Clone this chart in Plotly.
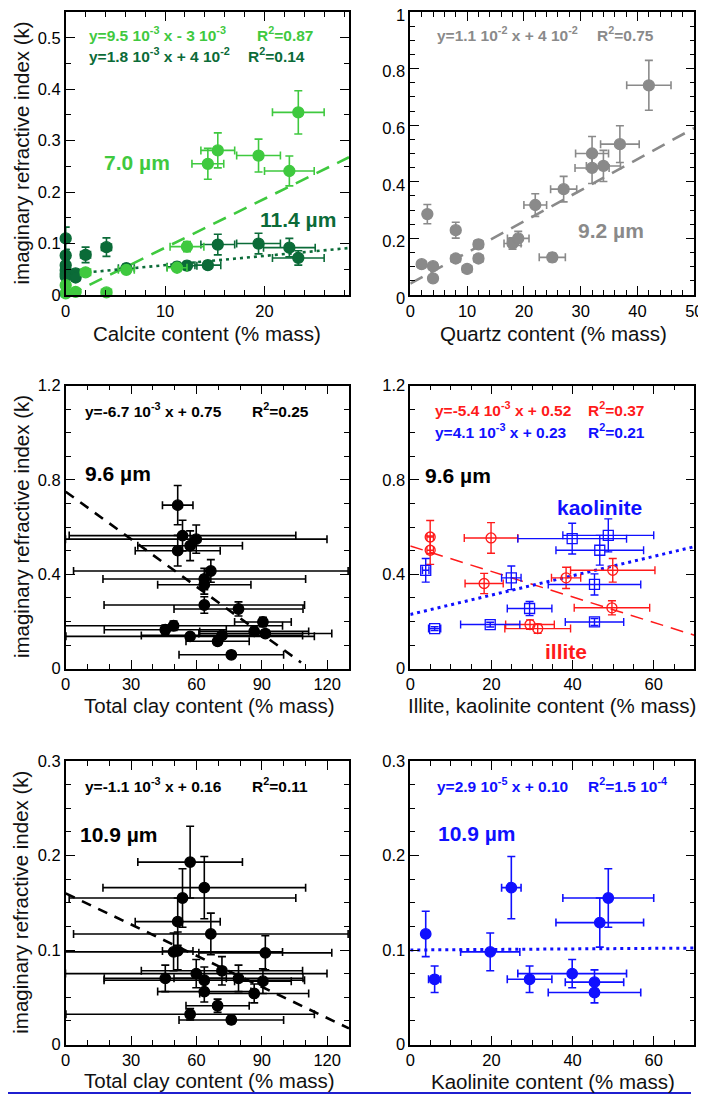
import plotly.graph_objects as go

# The page body adds an 8 px margin, so the figure is sized to the window minus that
OFF = 8
W, H = 706 - OFF, 1096 - OFF
FONT = "Liberation Sans, Arial, sans-serif"

# ---------------- colours ----------------
C_LIGHT = "#3fc93f"
C_DARK = "#0b6b38"
C_GRAY = "#8a8a8a"
C_BLACK = "#000000"
C_RED = "#ff1a1a"
C_BLUE = "#1010ff"

# ---------------- data: calcite (7.0 um and 11.4 um) ----------------
calc_x7 = [0, 0, 1.0, 2.0, 4.1, 6.1, 11.2, 12.2, 14.3, 15.3, 19.4, 22.5, 23.4]
calc_xe7 = [0.2, 0.2, 0.3, 0.5, 0.5, 0.8, 1.0, 1.7, 1.6, 1.7, 2.2, 2.5, 2.6]
calc_k7 = [0.003, 0.019, 0.006, 0.044, 0.005, 0.049, 0.053, 0.094, 0.255, 0.281, 0.271, 0.241, 0.355]
calc_ke7 = [0.004, 0.005, 0.004, 0.005, 0.004, 0.006, 0.006, 0.010, 0.030, 0.034, 0.032, 0.029, 0.042]

calc_x11 = [0, 0, 0, 0, 0, 0, 1.0, 1.0, 2.0, 4.1, 6.1, 11.2, 12.2, 14.3, 15.3, 19.4, 22.5, 23.4]
calc_xe11 = [0.2, 0.2, 0.2, 0.2, 0.2, 0.2, 0.4, 0.4, 0.5, 0.5, 0.8, 1.0, 1.0, 1.3, 1.7, 2.2, 2.6, 2.6]
calc_k11 = [0.110, 0.077, 0.058, 0.048, 0.041, 0.036, 0.042, 0.034, 0.078, 0.093, 0.052, 0.055, 0.057,
            0.058, 0.098, 0.100, 0.092, 0.072]
calc_ke11 = [0.022, 0.012, 0.010, 0.008, 0.007, 0.006, 0.008, 0.006, 0.015, 0.018, 0.008, 0.008, 0.008,
             0.008, 0.020, 0.020, 0.018, 0.014]

# ---------------- data: quartz (9.2 um) ----------------
qtz_x = [42.0, 36.9, 32.0, 32.0, 34.0, 27.0, 22.0, 18.0, 19.0, 25.0, 12.0, 12.0, 8.0, 8.0, 10.0, 3.0, 2.0, 4.0, 4.0]
qtz_xe = [3.9, 3.4, 2.9, 3.0, 3.0, 2.3, 2.0, 1.5, 1.9, 2.3, 0.8, 0.8, 0.6, 0.8, 0.8, 0.4, 0.7, 0.7, 0.5]
qtz_k = [0.741, 0.533, 0.500, 0.449, 0.456, 0.374, 0.318, 0.182, 0.200, 0.133, 0.179, 0.129, 0.229, 0.129,
         0.092, 0.286, 0.109, 0.102, 0.059]
qtz_ke = [0.088, 0.065, 0.060, 0.055, 0.055, 0.045, 0.040, 0.020, 0.025, 0.015, 0.015, 0.010, 0.028, 0.010,
          0.010, 0.034, 0.010, 0.012, 0.010]

# ---------------- data: total clay (9.6 um and 10.9 um) ----------------
clay_x = [51.4, 53.6, 59.9, 57.1, 51.4, 66.6, 63.6, 63.6, 63.6, 79.3, 90.5, 49.5, 45.7, 57.1, 69.7, 71.7, 86.5, 91.6, 76.0]
clay_xe = [7, 52, 60, 24, 19.5, 63, 46.5, 21.4, 46, 29.6, 13, 50, 28, 57, 14.5, 37, 25, 30.5, 24]
clay_k96 = [0.693, 0.564, 0.549, 0.521, 0.500, 0.414, 0.380, 0.356, 0.270, 0.253, 0.198, 0.182, 0.165,
            0.137, 0.116, 0.141, 0.158, 0.149, 0.059]
clay_ke96 = [0.083, 0.065, 0.060, 0.063, 0.065, 0.048, 0.045, 0.040, 0.035, 0.030, 0.020, 0.020, 0.020,
             0.015, 0.015, 0.015, 0.018, 0.015, 0.010]
clay_k109 = [0.099, 0.155, 0.075, 0.193, 0.130, 0.117, 0.166, 0.056, 0.068, 0.070, 0.067, 0.098, 0.070,
             0.032, 0.041, 0.078, 0.054, 0.097, 0.026]
clay_ke109 = [0.020, 0.031, 0.015, 0.038, 0.025, 0.022, 0.033, 0.011, 0.014, 0.014, 0.013, 0.020, 0.014,
              0.006, 0.007, 0.015, 0.010, 0.018, 0.004]

# ---------------- data: illite / kaolinite ----------------
illite_x = [4.9, 4.9, 19.9, 18.2, 38.4, 49.9, 49.7, 29.5, 31.4]
illite_xe = [0.8, 0.8, 6.6, 4.7, 3.6, 10.4, 9.3, 6.0, 8.1]
illite_k96 = [0.558, 0.502, 0.554, 0.361, 0.385, 0.417, 0.258, 0.187, 0.170]
illite_ke96 = [0.070, 0.060, 0.065, 0.043, 0.045, 0.050, 0.030, 0.020, 0.020]

kaol_x = [3.8, 6.0, 24.9, 29.4, 19.7, 39.9, 48.8, 46.7, 45.4, 45.4]
kaol_xe = [0.8, 1.5, 2.4, 5.5, 7.3, 13.4, 11.2, 10.8, 11.4, 7.2]
kaol_k96 = [0.417, 0.170, 0.385, 0.255, 0.187, 0.551, 0.565, 0.502, 0.357, 0.198]
kaol_ke96 = [0.050, 0.008, 0.050, 0.030, 0.010, 0.065, 0.070, 0.063, 0.045, 0.015]
kaol_k109 = [0.117, 0.069, 0.166, 0.069, 0.098, 0.075, 0.155, 0.129, 0.055, 0.066]
kaol_ke109 = [0.024, 0.014, 0.033, 0.014, 0.020, 0.015, 0.031, 0.026, 0.011, 0.013]

# ---------------- linear fits (slope, intercept) ----------------
fit_calc7 = (9.5e-3, -3e-3)
fit_calc11 = (1.8e-3, 4e-2)
fit_qtz = (1.1e-2, 4e-2)
fit_clay96 = (-6.7e-3, 0.75)
fit_illite96 = (-5.4e-3, 0.52)
fit_kaol96 = (4.1e-3, 0.23)
fit_clay109 = (-1.1e-3, 0.16)
fit_kaol109 = (2.9e-5, 0.10)

# ---------------- layout geometry (page pixels) ----------------
COLS = [(65.7, 349.0), (410.3, 694.3)]
ROWS = [(12.0, 295.0), (385.5, 668.7), (761.0, 1044.5)]

def fx(px):
    return (px - OFF) / W

def fy(py):
    return 1 - (py - OFF) / H

def xdom(c):
    l, r = COLS[c]
    return [fx(l), fx(r)]

def ydom(rw):
    t, b = ROWS[rw]
    return [fy(b), fy(t)]

fig = go.Figure()

def axis_common(rng, dtick, mdtick, dom, anchor):
    return dict(
        range=rng, dtick=dtick, tick0=0, domain=dom, anchor=anchor,
        showline=True, linewidth=1.6, linecolor="black", mirror="allticks",
        ticks="inside", ticklen=9, tickwidth=1.4, tickcolor="black",
        minor=dict(dtick=mdtick, tick0=0, ticks="inside", ticklen=5, tickwidth=1.2, tickcolor="black",
                   showgrid=False),
        showgrid=False, zeroline=False, automargin=False, ticklabeloverflow="allow",
        tickfont=dict(family=FONT, size=16.5, color="black"),
    )

panels = [
    # (xaxis name, yaxis name, col, row, xrange, xdtick, xminor, yrange, ydtick, yminor)
    ("x", "y", 0, 0, [0, 28.5], 10, 2, [0, 0.55], 0.1, 0.05),
    ("x2", "y2", 1, 0, [0, 50], 10, 2, [0, 1.0], 0.2, 0.05),
    ("x3", "y3", 0, 1, [0, 130], 30, 10, [0, 1.2], 0.4, 0.1),
    ("x4", "y4", 1, 1, [0, 70], 20, 5, [0, 1.2], 0.4, 0.1),
    ("x5", "y5", 0, 2, [0, 130], 30, 10, [0, 0.3], 0.1, 0.025),
    ("x6", "y6", 1, 2, [0, 70], 20, 5, [0, 0.3], 0.1, 0.025),
]
layout_axes = {}
for xa, ya, c, rw, xr, xd, xm, yr, yd, ym in panels:
    xkey = "xaxis" + xa[1:]
    ykey = "yaxis" + ya[1:]
    layout_axes[xkey] = axis_common(xr, xd, xm, xdom(c), ya)
    layout_axes[ykey] = axis_common(yr, yd, ym, ydom(rw), xa)
# keep the top "1" label of the quartz panel inside the page
layout_axes["yaxis2"]["ticklabelshift"] = 3


def fit_line(fit, x0, x1, xa, ya, color, dash, width):
    m, b = fit
    fig.add_trace(go.Scatter(
        x=[x0, x1], y=[m * x0 + b, m * x1 + b], mode="lines",
        line=dict(color=color, dash=dash, width=width),
        xaxis=xa, yaxis=ya, showlegend=False, hoverinfo="skip"))


def points(x, xe, y, ye, xa, ya, color, symbol="circle", size=11, clip=True, lw=1.6):
    fig.add_trace(go.Scatter(
        x=x, y=y, mode="markers",
        marker=dict(symbol=symbol, size=size, color=color, line=dict(color=color, width=1.3)),
        error_x=dict(type="data", array=xe, color=color, thickness=lw, width=4),
        error_y=dict(type="data", array=ye, color=color, thickness=lw, width=4),
        xaxis=xa, yaxis=ya, showlegend=False, cliponaxis=clip))


def xstart(fit):
    m, b = fit
    return max(0.0, -b / m) if m > 0 and b < 0 else 0.0

# panel 1: calcite
fit_line(fit_calc7, xstart(fit_calc7), 28.5, "x", "y", C_LIGHT, "14px,9px", 2.6)
fit_line(fit_calc11, 0, 28.5, "x", "y", C_DARK, "3px,4px", 2.6)
points(calc_x11, calc_xe11, calc_k11, calc_ke11, "x", "y", C_DARK, clip=False)
points(calc_x7, calc_xe7, calc_k7, calc_ke7, "x", "y", C_LIGHT, clip=False)

# panel 2: quartz
fit_line(fit_qtz, 0, 50, "x2", "y2", C_GRAY, "14px,9px", 2.6)
points(qtz_x, qtz_xe, qtz_k, qtz_ke, "x2", "y2", C_GRAY, clip=False)

# panel 3: clay 9.6 um
fit_line(fit_clay96, 0, 108, "x3", "y3", C_BLACK, "10px,8px", 2.6)
points(clay_x, clay_xe, clay_k96, clay_ke96, "x3", "y3", C_BLACK, size=10.5)

# panel 4: illite / kaolinite 9.6 um
fit_line(fit_illite96, 0, 70, "x4", "y4", C_RED, "13px,8px", 1.5)
fit_line(fit_kaol96, 0, 70, "x4", "y4", C_BLUE, "3px,4px", 3)
points(illite_x, illite_xe, illite_k96, illite_ke96, "x4", "y4", C_RED, symbol="circle-open", size=10, lw=1.4)
points(kaol_x, kaol_xe, kaol_k96, kaol_ke96, "x4", "y4", C_BLUE, symbol="square-open", size=10, lw=1.4)

# panel 5: clay 10.9 um
fit_line(fit_clay109, 0, 130, "x5", "y5", C_BLACK, "10px,8px", 2.6)
points(clay_x, clay_xe, clay_k109, clay_ke109, "x5", "y5", C_BLACK, size=10.5)

# panel 6: kaolinite 10.9 um
fit_line(fit_kaol109, 0, 70, "x6", "y6", C_BLUE, "3px,4px", 3)
points(kaol_x, kaol_xe, kaol_k109, kaol_ke109, "x6", "y6", C_BLUE, size=10.5)

# ---------------- annotations ----------------
anns = []

def ann(text, xp, yp, color, size, xanchor="left", bold=True, angle=0):
    anns.append(dict(
        text=("<b>%s</b>" % text) if bold else text,
        x=fx(xp), y=fy(yp), xref="paper", yref="paper",
        xanchor=xanchor, yanchor="middle", showarrow=False, textangle=angle,
        font=dict(family=FONT, size=size, color=color)))

EQ = 15.5
WL = 21
TT = 20.5

# panel 1
ann("y=9.5 10<sup>-3</sup> x - 3 10<sup>-3</sup>", 87, 34, C_LIGHT, EQ)
ann("R<sup>2</sup>=0.87", 255, 34, C_LIGHT, EQ)
ann("y=1.8 10<sup>-3</sup> x + 4 10<sup>-2</sup>", 87, 55, C_DARK, EQ)
ann("R<sup>2</sup>=0.14", 246, 55, C_DARK, EQ)
ann("7.0 µm", 137, 162, C_LIGHT, WL, xanchor="center")
ann("11.4 µm", 298, 220, C_DARK, WL, xanchor="center")
# panel 2
ann("y=1.1 10<sup>-2</sup> x + 4 10<sup>-2</sup>", 434.7, 34, C_GRAY, EQ)
ann("R<sup>2</sup>=0.75", 594.7, 34, C_GRAY, EQ)
ann("9.2 µm", 611, 230, C_GRAY, WL, xanchor="center")
# panel 3
ann("y=-6.7 10<sup>-3</sup> x + 0.75", 83.3, 410, C_BLACK, EQ)
ann("R<sup>2</sup>=0.25", 250, 410, C_BLACK, EQ)
ann("9.6 µm", 118.3, 474, C_BLACK, WL, xanchor="center")
# panel 4
ann("y=-5.4 10<sup>-3</sup> x + 0.52", 433, 409.3, C_RED, EQ)
ann("R<sup>2</sup>=0.37", 586, 409.3, C_RED, EQ)
ann("y=4.1 10<sup>-3</sup> x + 0.23", 433, 430.7, C_BLUE, EQ)
ann("R<sup>2</sup>=0.21", 586, 430.7, C_BLUE, EQ)
ann("9.6 µm", 458, 475, C_BLACK, WL, xanchor="center")
ann("kaolinite", 599, 508, C_BLUE, WL, xanchor="center")
ann("illite", 566, 651, C_RED, WL, xanchor="center")
# panel 5
ann("y=-1.1 10<sup>-3</sup> x + 0.16", 82.7, 785, C_BLACK, EQ)
ann("R<sup>2</sup>=0.11", 250, 785, C_BLACK, EQ)
ann("10.9 µm", 119, 834, C_BLACK, WL, xanchor="center")
# panel 6
ann("y=2.9 10<sup>-5</sup> x + 0.10", 434.7, 785, C_BLUE, EQ)
ann("R<sup>2</sup>=1.5 10<sup>-4</sup>", 586, 785, C_BLUE, EQ)
ann("10.9 µm", 476, 833, C_BLUE, WL, xanchor="center")

# axis titles
for yc in [(ROWS[0][0] + ROWS[0][1]) / 2, (ROWS[1][0] + ROWS[1][1]) / 2, (ROWS[2][0] + ROWS[2][1]) / 2]:
    ann("imaginary refractive index (k)", 21, yc, "#111111", TT, xanchor="center", bold=False, angle=-90)
ann("Calcite content (% mass)", 207, 333, "#111111", TT, xanchor="center", bold=False)
ann("Quartz content (% mass)", 553, 333, "#111111", TT, xanchor="center", bold=False)
ann("Total clay content (% mass)", 209, 705, "#111111", TT, xanchor="center", bold=False)
ann("Illite, kaolinite content (% mass)", 552, 705, "#111111", TT, xanchor="center", bold=False)
ann("Total clay content (% mass)", 209, 1080, "#111111", TT, xanchor="center", bold=False)
ann("Kaolinite content (% mass)", 553, 1081, "#111111", TT, xanchor="center", bold=False)

fig.update_layout(
    width=W, height=H, autosize=False,
    margin=dict(l=0, r=0, t=0, b=0),
    paper_bgcolor="white", plot_bgcolor="white",
    showlegend=False,
    annotations=anns,
    shapes=[dict(type="line", xref="paper", yref="paper", x0=0, x1=fx(691),
                 y0=fy(1093), y1=fy(1093), line=dict(color="#1f1fd0", width=2))],
    **layout_axes,
)

fig.write_html("out.html")
